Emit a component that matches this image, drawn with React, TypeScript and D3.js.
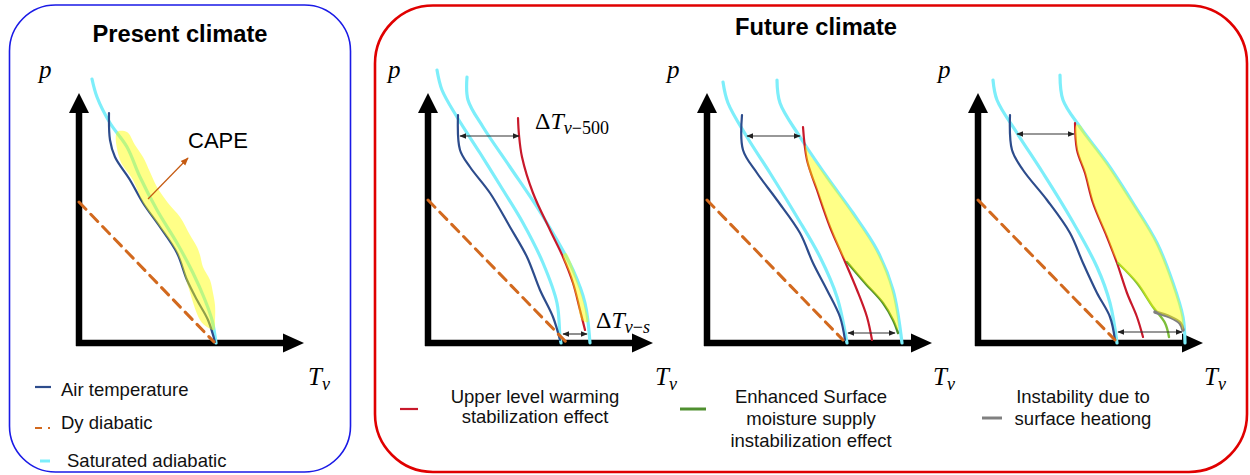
import React from 'react';
import * as d3 from 'd3';

type Pt = [number, number];

// ---------- Present climate (T offset, height above axis) ----------
const presentSatAdiabat: Pt[] = [[13,264],[18,246],[31,220],[48,196],[61,166],[78,133],[98,100],[114,70],[126,43],[133,23],[137,0]];
const presentAirTemp: Pt[] = [[30,230],[31,203],[36,186],[51,163],[64,140],[81,116],[98,90],[108,63],[118,43],[129,23],[136,1]];
const presentDryAdiabat: Pt[] = [[0,141],[135,1]];
const presentCape: Pt[] = [[38,211],[48,211],[56,198],[64,186],[71,171],[78,156],[89,140],[101,126],[111,108],[118,96],[121,88],[124,76],[131,63],[134,50],[136,38],[136,23],[135,13],[128,16],[121,23],[108,60],[98,90],[78,120],[64,140],[54,163],[41,183]];
const capeArrow: Pt[] = [[69,144],[109,185]];

// ---------- Future panel 1 ----------
const f1SatAdiabat: Pt[] = [[9,273],[14,253],[29,226],[52,190],[75,153],[95,120],[115,80],[129,40],[132,6],[133,0]];
const f1SatAdiabatWarm: Pt[] = [[39,266],[40,243],[55,216],[82,176],[109,136],[129,103],[145,73],[157,40],[162,0]];
const f1AirTemp: Pt[] = [[30,228],[32,193],[42,176],[62,150],[82,116],[99,86],[112,53],[125,26],[132,3]];
const f1Warmed: Pt[] = [[90,225],[91,208],[94,186],[105,150],[122,113],[135,86],[145,60],[152,33],[157,13]];
const f1DryAdiabat: Pt[] = [[0,143],[139,0]];
const f1Cape: Pt[] = [[135,88],[142,68],[149,43],[154,23],[160,21],[155,43],[149,63],[142,83],[138,90]];
const f1Arrows: [number, number, number][] = [[32,91,207],[135,159,9]];

// ---------- Future panel 2 ----------
const f2SatAdiabat: Pt[] = [[16,261],[21,240],[40,206],[63,170],[90,126],[113,86],[130,46],[140,0]];
const f2SatAdiabatWarm: Pt[] = [[70,263],[73,240],[93,206],[120,166],[146,130],[170,93],[186,53],[195,0]];
const f2AirTemp: Pt[] = [[35,228],[36,193],[50,170],[70,143],[93,110],[106,80],[120,53],[133,26],[138,3]];
const f2Warmed: Pt[] = [[96,216],[100,183],[110,153],[123,116],[136,86],[150,53],[160,26],[165,3]];
const f2Moist: Pt[] = [[140,81],[158,60],[176,40],[186,23],[191,10]];
const f2DryAdiabat: Pt[] = [[0,143],[136,3]];
const f2Cape: Pt[] = [[98,198],[101,176],[110,153],[123,116],[136,86],[140,81],[158,60],[176,40],[186,23],[191,13],[190,33],[179,73],[163,103],[143,133],[120,166],[103,188]];
const f2Arrows: [number, number, number][] = [[40,93,207],[141,188,10]];

// ---------- Future panel 3 ----------
const f3SatAdiabat: Pt[] = [[15,263],[19,243],[39,210],[65,170],[92,126],[119,76],[132,40],[139,0]];
const f3SatAdiabatWarm: Pt[] = [[82,268],[85,243],[102,216],[129,180],[155,140],[179,100],[195,60],[205,26],[207,0]];
const f3AirTemp: Pt[] = [[32,228],[34,193],[45,173],[69,143],[92,110],[105,80],[119,50],[132,26],[137,3]];
const f3Warmed: Pt[] = [[97,220],[99,193],[107,170],[115,140],[129,106],[139,80],[149,50],[159,26],[165,6]];
const f3Moist: Pt[] = [[140,80],[159,60],[175,36],[187,20],[191,6]];
const f3Heat: Pt[] = [[177,31],[192,26],[202,20],[205,13]];
const f3DryAdiabat: Pt[] = [[0,143],[137,3]];
const f3Cape: Pt[] = [[98,218],[99,193],[107,170],[115,140],[129,106],[140,80],[159,60],[177,33],[192,26],[202,20],[205,13],[205,26],[195,60],[179,100],[155,140],[129,180],[107,210],[102,218]];
const f3Arrows: [number, number, number][] = [[39,96,209],[140,204,11]];

// ---------- Legend texts ----------
const presentLegend = ['Air temperature', 'Dy diabatic', 'Saturated adiabatic'];
const futureLegend1 = ['Upper level warming', 'stabilization effect'];
const futureLegend2 = ['Enhanced Surface', 'moisture supply', 'instabilization effect'];
const futureLegend3 = ['Instability due to', 'surface heationg'];

const C = {
  cyan: '#7DEEFA',
  blue: '#2D4C8C',
  red: '#C8192B',
  green2: '#4F8F2F',
  green3: '#7DBE3A',
  gray: '#808080',
  dash: '#D2691E',
  cape: 'rgba(255,255,0,0.47)',
};

const SANS = 'Liberation Sans, Arial, sans-serif';
const SERIF = 'Liberation Serif, Times New Roman, serif';

function scales(ox: number) {
  const x = d3.scaleLinear().domain([0, 225]).range([ox, ox + 225]);
  const y = d3.scaleLinear().domain([0, 250]).range([343, 93]);
  return { x, y };
}

function Axes({ ox }: { ox: number }) {
  const { x, y } = scales(ox);
  return (
    <g>
      <line x1={x(0)} y1={y(-3)} x2={x(0)} y2={y(232)} stroke="#000" strokeWidth={6.5} />
      <polygon points={`${x(0)},${y(250)} ${x(0) - 10},${y(230)} ${x(0) + 10},${y(230)}`} fill="#000" />
      <line x1={x(-3)} y1={y(0)} x2={x(206)} y2={y(0)} stroke="#000" strokeWidth={6.5} />
      <polygon points={`${x(225)},${y(0)} ${x(204)},${y(0) - 9.5} ${x(204)},${y(0) + 9.5}`} fill="#000" />
    </g>
  );
}

function Curve({ ox, data, color, width, dash, curve }: { ox: number; data: Pt[]; color: string; width: number; dash?: string; curve?: any }) {
  const { x, y } = scales(ox);
  const gen = d3.line<Pt>().x(d => x(d[0])).y(d => y(d[1])).curve(curve || d3.curveCatmullRom.alpha(0.5));
  return <path d={gen(data) || ''} fill="none" stroke={color} strokeWidth={width} strokeDasharray={dash} strokeLinecap="round" strokeLinejoin="round" />;
}

function Area({ ox, data }: { ox: number; data: Pt[] }) {
  const { x, y } = scales(ox);
  const gen = d3.line<Pt>().x(d => x(d[0])).y(d => y(d[1])).curve(d3.curveCatmullRomClosed.alpha(0.5));
  return <path d={gen(data) || ''} fill={C.cape} stroke="none" />;
}

function DArrows({ ox, data }: { ox: number; data: [number, number, number][] }) {
  const { x, y } = scales(ox);
  return (
    <g>
      {data.map((a, i) => (
        <line key={i} x1={x(a[0])} y1={y(a[2])} x2={x(a[1])} y2={y(a[2])} stroke="#333" strokeWidth={1.1} markerStart="url(#ah)" markerEnd="url(#ah)" />
      ))}
    </g>
  );
}

function AxisLabels({ ox, tx }: { ox: number; tx: number }) {
  return (
    <g fontFamily={SERIF} fontStyle="italic" fill="#000">
      <text x={ox - 40} y={78} fontSize={25}>p</text>
      <text x={ox + tx} y={385} fontSize={25}>T<tspan fontSize={18} dy={5}>v</tspan></text>
    </g>
  );
}

function Panel({ ox, sat, warm, air, warmed, moist, heat, dry, cape, arrows, tx, greenColor }: any) {
  return (
    <g>
      <Axes ox={ox} />
      <Curve ox={ox} data={sat} color={C.cyan} width={3.2} />
      {warm && <Curve ox={ox} data={warm} color={C.cyan} width={3.2} />}
      <Curve ox={ox} data={air} color={C.blue} width={2.2} />
      {warmed && <Curve ox={ox} data={warmed} color={C.red} width={2.2} />}
      {moist && <Curve ox={ox} data={moist} color={greenColor} width={2.4} />}
      {heat && <Curve ox={ox} data={heat} color={C.gray} width={3.5} />}
      <Curve ox={ox} data={dry} color={C.dash} width={3} dash="10,7" curve={d3.curveLinear} />
      <Area ox={ox} data={cape} />
      {arrows && <DArrows ox={ox} data={arrows} />}
      <AxisLabels ox={ox} tx={tx} />
    </g>
  );
}

export default function App() {
  const p0 = 79, f1 = 428, f2 = 707, f3 = 978;
  const s0 = scales(p0);
  const s1 = scales(f1);
  return (
    <svg width={1250} height={475} viewBox="0 0 1250 475" style={{ position: 'absolute', left: 0, top: 0, background: '#fff' }}>
      <defs>
        <marker id="ah" viewBox="0 0 10 10" refX={9} refY={5} markerWidth={7} markerHeight={7} orient="auto-start-reverse" markerUnits="userSpaceOnUse">
          <path d="M0,1 L10,5 L0,9 z" fill="#222" />
        </marker>
        <marker id="ah2" viewBox="0 0 10 10" refX={9} refY={5} markerWidth={8} markerHeight={8} orient="auto" markerUnits="userSpaceOnUse">
          <path d="M0,1 L10,5 L0,9 z" fill="#C55A11" />
        </marker>
      </defs>
      <rect x={9.5} y={5} width={341} height={467} rx={46} ry={46} fill="none" stroke="#1A1AE6" strokeWidth={1.6} />
      <rect x={375} y={5.5} width={872} height={466.5} rx={58} ry={58} fill="none" stroke="#E00000" strokeWidth={2.6} />

      <text x={180} y={42} textAnchor="middle" fontFamily={SANS} fontWeight="bold" fontSize={23} textLength={175} lengthAdjust="spacingAndGlyphs">Present climate</text>
      <text x={816} y={35} textAnchor="middle" fontFamily={SANS} fontWeight="bold" fontSize={23} textLength={162} lengthAdjust="spacingAndGlyphs">Future climate</text>

      <Panel ox={p0} sat={presentSatAdiabat} air={presentAirTemp} dry={presentDryAdiabat} cape={presentCape} tx={229} />
      <line x1={s0.x(capeArrow[0][0])} y1={s0.y(capeArrow[0][1])} x2={s0.x(capeArrow[1][0])} y2={s0.y(capeArrow[1][1])} stroke="#C55A11" strokeWidth={1.2} markerEnd="url(#ah2)" />
      <text x={188} y={148} fontFamily={SANS} fontSize={22}>CAPE</text>

      <Panel ox={f1} sat={f1SatAdiabat} warm={f1SatAdiabatWarm} air={f1AirTemp} warmed={f1Warmed} dry={f1DryAdiabat} cape={f1Cape} arrows={f1Arrows} tx={227} />
      <Panel ox={f2} sat={f2SatAdiabat} warm={f2SatAdiabatWarm} air={f2AirTemp} warmed={f2Warmed} moist={f2Moist} dry={f2DryAdiabat} cape={f2Cape} arrows={f2Arrows} tx={226} greenColor={C.green2} />
      <Panel ox={f3} sat={f3SatAdiabat} warm={f3SatAdiabatWarm} air={f3AirTemp} warmed={f3Warmed} moist={f3Moist} heat={f3Heat} dry={f3DryAdiabat} cape={f3Cape} arrows={f3Arrows} tx={226} greenColor={C.green3} />

      <g fontFamily={SERIF} fill="#000">
        <text x={s1.x(107)} y={129} fontSize={24}>Δ<tspan fontStyle="italic">T</tspan><tspan fontSize={18} dy={5}><tspan fontStyle="italic">v</tspan>−500</tspan></text>
        <text x={s1.x(168)} y={328} fontSize={24}>Δ<tspan fontStyle="italic">T</tspan><tspan fontSize={18} dy={5}><tspan fontStyle="italic">v</tspan>−<tspan fontStyle="italic">s</tspan></tspan></text>
      </g>

      {/* Present legend */}
      <g fontFamily={SANS} fontSize={18.5} fill="#111">
        <line x1={35} y1={387} x2={51} y2={387} stroke={C.blue} strokeWidth={2.2} />
        <text x={61} y={396}>{presentLegend[0]}</text>
        <line x1={35} y1={428} x2={52} y2={428} stroke={C.dash} strokeWidth={2.2} strokeDasharray="7,6,2" />
        <text x={61} y={429}>{presentLegend[1]}</text>
        <line x1={40} y1={461} x2={50} y2={461} stroke={C.cyan} strokeWidth={3} />
        <text x={67} y={467}>{presentLegend[2]}</text>
      </g>

      {/* Future legend */}
      <g fontFamily={SANS} fontSize={18.5} fill="#111" textAnchor="middle">
        <line x1={400} y1={409} x2={418} y2={409} stroke={C.red} strokeWidth={2.2} />
        {futureLegend1.map((t, i) => <text key={t} x={535} y={403 + i * 20}>{t}</text>)}
        <line x1={680} y1={409} x2={706} y2={409} stroke={C.green2} strokeWidth={3} />
        {futureLegend2.map((t, i) => <text key={t} x={811} y={403 + i * 22}>{t}</text>)}
        <line x1={982} y1={418} x2={1002} y2={418} stroke={C.gray} strokeWidth={3} />
        {futureLegend3.map((t, i) => <text key={t} x={1083} y={403 + i * 22}>{t}</text>)}
      </g>
    </svg>
  );
}
